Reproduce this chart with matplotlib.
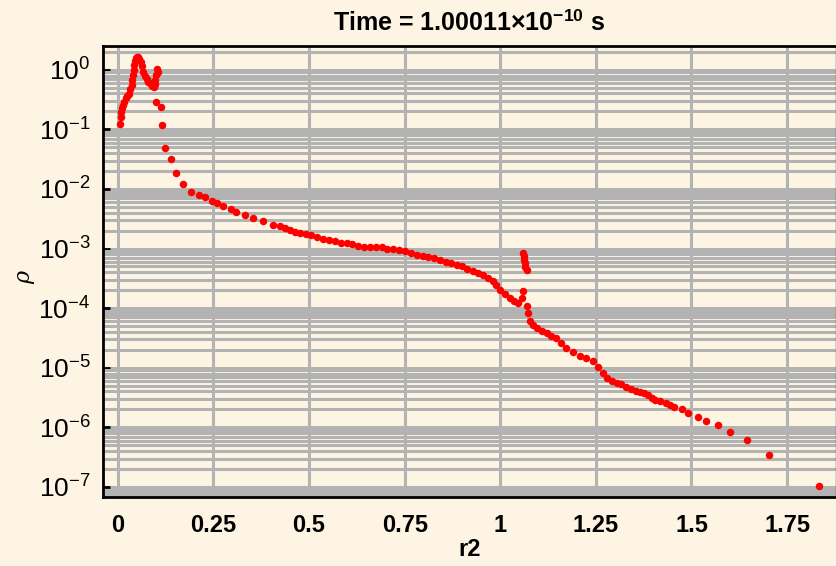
import matplotlib
matplotlib.use("Agg")
import matplotlib.pyplot as plt
from matplotlib.ticker import LogLocator, MultipleLocator, LogFormatterMathtext, NullFormatter

plt.rcParams['font.family'] = ['Liberation Sans', 'DejaVu Sans']
plt.rcParams['mathtext.fontset'] = 'custom'
plt.rcParams['mathtext.rm'] = 'Liberation Sans:bold'
plt.rcParams['mathtext.bf'] = 'Liberation Sans:bold'
plt.rcParams['mathtext.it'] = 'DejaVu Serif:italic'

# r2 positions and density values
r2 = [0.005, 0.007, 0.008, 0.011, 0.014, 0.017, 0.020, 0.025, 0.029, 0.033,
      0.036, 0.038, 0.040, 0.042, 0.043, 0.045, 0.047, 0.050, 0.053, 0.056,
      0.060, 0.062, 0.066, 0.070, 0.075, 0.080, 0.084, 0.090, 0.095, 0.097,
      0.098, 0.100, 0.103, 0.105, 0.101, 0.112, 0.116, 0.123, 0.138, 0.153,
      0.170, 0.190, 0.212, 0.228, 0.245, 0.258, 0.275, 0.295, 0.310, 0.332,
      0.354, 0.380, 0.406, 0.424, 0.437, 0.450, 0.463, 0.476, 0.491, 0.506,
      0.521, 0.537, 0.552, 0.567, 0.583, 0.598, 0.613, 0.628, 0.644, 0.659,
      0.675, 0.690, 0.705, 0.720, 0.736, 0.751, 0.766, 0.781, 0.797, 0.812,
      0.827, 0.842, 0.857, 0.872, 0.886, 0.899, 0.914, 0.929, 0.942, 0.955,
      0.968, 0.981, 0.990, 0.999, 1.012, 1.025, 1.036, 1.047, 1.056, 1.060,
      1.060, 1.061, 1.062, 1.064, 1.066, 1.069,
      1.071, 1.073, 1.077, 1.086, 1.095, 1.108, 1.121, 1.134, 1.147, 1.160,
      1.173, 1.190, 1.208, 1.225, 1.243, 1.256, 1.269, 1.280, 1.291, 1.304,
      1.317, 1.330, 1.343, 1.354, 1.365, 1.376, 1.387, 1.396, 1.405, 1.418,
      1.433, 1.444, 1.455, 1.476, 1.491, 1.518, 1.539, 1.570, 1.602, 1.644,
      1.702, 1.833]

log_rho = [-0.91, -0.80, -0.71, -0.65, -0.60, -0.54, -0.48, -0.44, -0.40, -0.33,
           -0.26, -0.18, -0.09, 0.00, 0.075, 0.14, 0.19, 0.21, 0.21, 0.18,
           0.13, 0.06, -0.04, -0.10, -0.15, -0.20, -0.23, -0.27, -0.29, -0.24,
           -0.176, -0.08, 0.02, -0.04, -0.54, -0.62, -0.93, -1.31, -1.50, -1.74,
           -1.91, -2.05, -2.11, -2.14, -2.21, -2.24, -2.28, -2.34, -2.39, -2.43,
           -2.48, -2.53, -2.60, -2.63, -2.66, -2.69, -2.72, -2.74, -2.76, -2.78,
           -2.81, -2.84, -2.86, -2.88, -2.90, -2.91, -2.93, -2.95, -2.97, -2.98,
           -2.98, -2.98, -3.00, -3.01, -3.02, -3.04, -3.07, -3.10, -3.12, -3.14,
           -3.16, -3.19, -3.22, -3.25, -3.27, -3.30, -3.34, -3.38, -3.41, -3.44,
           -3.50, -3.55, -3.61, -3.69, -3.76, -3.83, -3.88, -3.92, -3.83, -3.72,
           -3.08, -3.13, -3.19, -3.25, -3.31, -3.36,
           -3.97, -4.08, -4.22, -4.29, -4.34, -4.38, -4.42, -4.46, -4.50, -4.58,
           -4.67, -4.74, -4.80, -4.84, -4.88, -4.98, -5.09, -5.17, -5.23, -5.26,
           -5.28, -5.32, -5.36, -5.39, -5.41, -5.43, -5.45, -5.50, -5.54, -5.56,
           -5.59, -5.63, -5.66, -5.69, -5.76, -5.83, -5.89, -5.96, -6.08, -6.22,
           -6.46, -6.99]

rho = [10 ** v for v in log_rho]

bg = '#fdf4e4'
fig = plt.figure(figsize=(8.37, 5.66), dpi=100, facecolor=bg)
ax = fig.add_axes([0.123, 0.122, 0.8758, 0.7967])
ax.set_facecolor(bg)

ax.set_yscale('log')
ax.set_xlim(-0.039, 1.878)
ax.set_ylim(6.8e-8, 2.5)

ax.plot(r2, rho, 'o', color='#ff0000', ms=5.4, mec='none', zorder=3)

ax.xaxis.set_major_locator(MultipleLocator(0.25))
ax.xaxis.set_minor_locator(MultipleLocator(0.05))
ax.yaxis.set_major_locator(LogLocator(base=10, numticks=20))
ax.yaxis.set_minor_locator(LogLocator(base=10, subs=range(2, 10), numticks=20))
ax.yaxis.set_major_formatter(LogFormatterMathtext())
ax.yaxis.set_minor_formatter(NullFormatter())

gc = '#b3b3b3'
ax.grid(True, which='major', axis='x', color=gc, lw=2.2, zorder=0)
ax.grid(True, which='both', axis='y', color=gc, lw=2.2, zorder=0)
ax.set_axisbelow(True)

ax.xaxis.set_major_formatter(plt.FuncFormatter(lambda v, p: ('%g' % v)))
ax.tick_params(axis='both', which='major', direction='in', length=5, width=2,
               color='black')
ax.tick_params(axis='x', which='major', labelsize=17, pad=12)
ax.tick_params(axis='y', which='major', labelsize=19, pad=9)
ax.tick_params(axis='x', which='minor', direction='in', length=2.5, width=1.5)
ax.tick_params(axis='y', which='minor', length=0)
for lab in ax.get_xticklabels():
    lab.set_fontweight('bold')

for s in ['left', 'bottom', 'top']:
    ax.spines[s].set_linewidth(2)
    ax.spines[s].set_color('black')
ax.spines['right'].set_linewidth(1)
ax.spines['right'].set_color('#555555')

ax.set_xlabel('r2', fontsize=17, fontweight='bold', labelpad=1)
ax.set_ylabel(r'$\rho$', fontsize=16, labelpad=4)
ax.yaxis.set_label_coords(-0.09, 0.49)
ax.set_title(r'Time = 1.00011$\times$10$^{-10}$ s', fontsize=18,
             fontweight='bold', pad=11)

fig.savefig('out.png', dpi=100, facecolor=bg)
